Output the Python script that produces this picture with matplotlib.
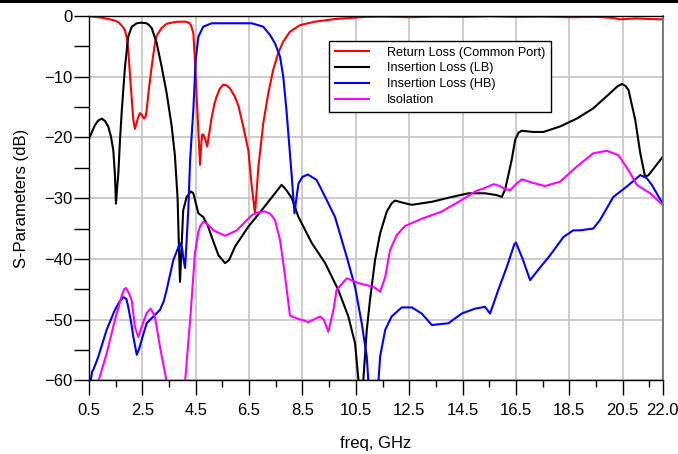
import matplotlib
matplotlib.use("Agg")
import matplotlib.pyplot as plt
from matplotlib.lines import Line2D
import numpy as np

plt.rcParams['font.family'] = ['Liberation Sans', 'DejaVu Sans']

# Return Loss (Common Port)
rl_f = [0.5, 1.0, 1.4, 1.6, 1.77, 1.85, 1.91, 1.97, 2.04, 2.1, 2.16, 2.22, 2.29, 2.35, 2.41, 2.48, 2.56, 2.62, 2.66,
        2.75, 2.85, 2.97, 3.04, 3.22, 3.4, 3.6, 3.8, 4.1, 4.25, 4.32, 4.41, 4.47, 4.56, 4.66, 4.71, 4.74, 4.78, 4.86,
        4.93, 5.0, 5.1, 5.2, 5.28, 5.4, 5.53, 5.65, 5.78, 5.97, 6.1, 6.28, 6.47, 6.6, 6.72, 6.85, 7.03, 7.22, 7.4,
        7.59, 7.78, 8.03, 8.41, 8.97, 9.72, 10.85, 11.5, 12.5, 13.5, 14.5, 15.5, 16.5, 17.5, 18.5, 19.5, 20.1,
        20.4, 20.6, 21.0, 21.5, 22.0]
rl_db = [0.0, -0.3, -0.66, -1.0, -1.8, -2.4, -3.4, -5.5, -10.0, -13.5, -17.1, -18.6, -17.5, -16.6, -16.0, -16.3,
         -16.9, -16.6, -15.5, -11.8, -8.3, -4.5, -3.2, -2.0, -1.3, -1.1, -0.95, -0.93, -1.1, -1.5, -2.85, -7.2,
         -15.5, -24.5, -21.0, -19.6, -19.5, -20.3, -21.5, -19.5, -16.6, -14.5, -13.3, -12.0, -11.3, -11.4, -11.9,
         -13.3, -14.8, -18.2, -22.1, -28.1, -32.5, -24.8, -17.7, -12.7, -8.9, -6.1, -4.2, -2.6, -1.5, -0.93, -0.5,
         -0.15, -0.1, -0.2, -0.1, -0.15, -0.05, -0.15, -0.1, -0.2, -0.15, -0.3, -0.55, -0.5, -0.4, -0.5, -0.55]

# Insertion Loss (LB)
lb_f = [0.5, 0.72, 0.85, 0.98, 1.1, 1.22, 1.32, 1.41, 1.47, 1.51, 1.55, 1.6, 1.66, 1.73, 1.85, 1.97, 2.1, 2.29, 2.45,
        2.66, 2.75, 2.85, 3.04, 3.22, 3.41, 3.6, 3.72, 3.82, 3.87, 3.91, 3.97, 4.03, 4.16, 4.32, 4.41, 4.6, 4.78,
        4.95, 5.1, 5.35, 5.6, 5.75, 5.97, 6.47, 6.97, 7.47, 7.72, 7.9, 8.1, 8.35, 8.85, 9.35, 9.84, 10.22, 10.47,
        10.6, 10.68, 10.78, 10.91, 11.03, 11.22, 11.41, 11.66, 11.85, 11.97, 12.3, 12.6, 13.35, 14.1, 14.72, 15.34,
        15.78, 15.97, 16.1, 16.2, 16.34, 16.47, 16.6, 16.72, 17.15, 17.53, 18.15, 18.78, 19.4, 20.03, 20.3, 20.47,
        20.6, 20.72, 20.97, 21.16, 21.34, 21.47, 21.72, 22.0]
lb_db = [-20.2, -18.0, -17.2, -16.9, -17.3, -18.2, -19.8, -22.1, -26.0, -30.9, -28.5, -25.9, -20.5, -15.5, -8.3,
         -3.4, -1.76, -1.2, -1.1, -1.2, -1.5, -2.0, -4.5, -8.3, -12.7, -18.2, -23.0, -30.0, -38.0, -43.8, -38.0,
         -32.0, -29.8, -28.9, -29.2, -32.5, -33.1, -34.5, -36.4, -39.4, -40.7, -40.2, -38.0, -34.7, -32.0, -29.2,
         -27.8, -28.7, -30.0, -33.1, -37.4, -40.7, -45.1, -49.5, -53.9, -60.0, -62.0, -60.0, -51.7, -46.8, -40.2,
         -35.8, -32.2, -30.8, -30.4, -30.8, -31.1, -30.6, -29.8, -29.2, -29.2, -29.5, -29.8, -28.5, -26.5, -23.7,
         -20.4, -19.2, -18.9, -19.1, -19.1, -18.2, -16.9, -15.2, -12.7, -11.6, -11.2, -11.5, -12.2, -17.1, -22.6,
         -26.5, -26.2, -24.8, -23.2]

# Insertion Loss (HB)
hb_f = [0.56, 0.62, 0.66, 0.85, 1.16, 1.47, 1.65, 1.79, 1.9, 1.97, 2.08, 2.16, 2.29, 2.38, 2.47, 2.66, 2.91, 3.16,
        3.3, 3.41, 3.66, 3.91, 4.0, 4.03, 4.1, 4.16, 4.22, 4.29, 4.35, 4.41, 4.5, 4.6, 4.78, 5.1, 5.97, 6.6, 7.03,
        7.28, 7.47, 7.66, 7.78, 7.9, 8.0, 8.1, 8.2, 8.28, 8.35, 8.5, 8.7, 9.03, 9.35, 9.72, 10.16, 10.47, 10.72,
        10.91, 10.97, 11.15, 11.35, 11.41, 11.6, 11.84, 12.22, 12.6, 12.97, 13.35, 13.97, 14.47, 14.97, 15.34,
        15.53, 15.84, 16.16, 16.44, 16.5, 16.75, 17.03, 17.3, 17.78, 18.28, 18.65, 18.9, 19.4, 19.65, 20.15,
        20.65, 21.16, 21.4, 21.59, 22.0]
hb_db = [-60.2, -58.5, -58.3, -56.1, -51.7, -48.4, -47.0, -46.3, -46.6, -47.9, -50.5, -52.8, -55.8, -54.8, -53.4,
         -50.6, -49.5, -48.4, -47.0, -45.1, -40.2, -37.4, -38.5, -39.7, -41.5, -36.9, -32.0, -23.7, -19.5, -15.5,
         -7.2, -3.4, -1.76, -1.2, -1.2, -1.2, -1.76, -3.1, -4.5, -6.7, -10.0, -15.5, -21.0, -26.5, -32.5, -29.8,
         -27.6, -26.5, -26.1, -27.0, -29.8, -33.1, -39.7, -44.6, -50.6, -56.1, -60.2, -63.0, -60.0, -56.1, -51.7,
         -49.5, -48.0, -48.0, -49.0, -50.9, -50.6, -49.0, -48.2, -47.9, -49.0, -45.1, -41.3, -37.6, -37.3, -40.0,
         -43.5, -42.0, -39.4, -36.4, -35.3, -35.3, -35.0, -33.6, -29.8, -28.1, -26.2, -26.7, -27.8, -30.9]

# Isolation
iso_f = [0.85, 1.16, 1.47, 1.73, 1.82, 1.89, 1.98, 2.1, 2.22, 2.35, 2.47, 2.66, 2.81, 2.97, 3.16, 3.41, 3.75, 4.1,
         4.29, 4.47, 4.6, 4.66, 4.78, 4.95, 5.16, 5.6, 6.04, 6.6, 6.85, 7.1, 7.3, 7.47, 7.66, 7.85, 8.03, 8.28, 8.72,
         9.16, 9.3, 9.47, 9.66, 9.78, 10.16, 10.6, 11.16, 11.41, 11.6, 11.78, 12.03, 12.34, 12.97, 13.72, 14.47,
         14.97, 15.4, 15.66, 15.9, 16.03, 16.28, 16.5, 16.72, 17.15, 17.59, 18.15, 18.78, 19.4, 19.9, 20.34,
         20.72, 21.03, 21.53, 22.0]
iso_db = [-60.2, -55.6, -50.1, -46.0, -45.0, -44.8, -45.5, -46.8, -51.2, -52.9, -51.2, -48.9, -48.2, -49.5, -54.5,
          -60.2, -65.0, -60.2, -50.1, -39.1, -35.5, -34.7, -33.9, -34.3, -35.3, -36.2, -35.3, -32.8, -32.3, -32.2,
          -32.6, -33.6, -36.9, -42.9, -49.3, -49.8, -50.4, -49.5, -50.0, -52.0, -48.4, -45.1, -43.2, -44.0, -44.6,
          -45.4, -43.0, -38.6, -36.1, -34.6, -33.4, -32.2, -30.3, -28.9, -28.2, -27.7, -28.0, -28.4, -28.7, -27.7,
          -26.9, -27.5, -28.0, -27.3, -24.8, -22.6, -22.2, -22.9, -25.4, -27.8, -29.2, -31.1]

labels = ["Return Loss (Common Port)", "Insertion Loss (LB)", "Insertion Loss (HB)", "Isolation"]

fig = plt.figure(figsize=(6.78, 4.54), dpi=100)
ax = fig.add_axes([89 / 678, 1 - 380.3 / 454, (662.7 - 89) / 678, (380.3 - 16) / 454])

ax.plot(rl_f, rl_db, color='#ff0000', lw=1.5, label=labels[0])
ax.plot(lb_f, lb_db, color='black', lw=1.5, label=labels[1])
ax.plot(hb_f, hb_db, color='#0000ff', lw=1.5, label=labels[2])
ax.plot(iso_f, iso_db, color='#ff00ff', lw=1.5, label=labels[3])

ax.set_xlim(0.5, 22.0)
ax.set_ylim(-60, 0)

major_x = [0.5, 2.5, 4.5, 6.5, 8.5, 10.5, 12.5, 14.5, 16.5, 18.5, 20.5, 22.0]
ax.set_xticks(major_x)
ax.set_xticklabels(["%.1f" % v for v in major_x])
ax.set_xticks(np.arange(1.5, 22.0, 2.0), minor=True)
ax.set_yticks(np.arange(-60, 1, 10))
ax.set_yticks(np.arange(-55, 0, 10), minor=True)

ax.tick_params(axis='both', which='major', labelsize=12, direction='out', width=1)
ax.tick_params(axis='x', which='major', length=11, pad=5)
ax.tick_params(axis='x', which='minor', length=5, width=1)
ax.tick_params(axis='y', which='major', length=11, pad=1)
ax.tick_params(axis='y', which='minor', length=11, width=1)

ax.grid(True, which='major', color='#c8c8c8', lw=1.3)
ax.set_axisbelow(True)
for s in ['left', 'bottom', 'top']:
    ax.spines[s].set_color('black')
    ax.spines[s].set_linewidth(1)
ax.spines['right'].set_color('#707070')
ax.spines['right'].set_linewidth(1.3)

ax.set_xlabel("freq, GHz", fontsize=12, labelpad=13)
ax.set_ylabel("S-Parameters (dB)", fontsize=12, labelpad=11)

leg = ax.legend(loc='upper left', bbox_to_anchor=(329 / 678, 1 - 41 / 454), bbox_transform=fig.transFigure,
                fontsize=9.1, frameon=True, fancybox=False, framealpha=1, edgecolor='black',
                borderpad=0.45, labelspacing=0.3, handlelength=2.7, handletextpad=1.4, borderaxespad=0)
leg.get_frame().set_linewidth(1)

# thick rule across the top of the image
fig.add_artist(Line2D([0, 1], [1 - 1.3 / 454, 1 - 1.3 / 454], color='black', lw=2.2, transform=fig.transFigure))

fig.savefig("out.png", dpi=100)
